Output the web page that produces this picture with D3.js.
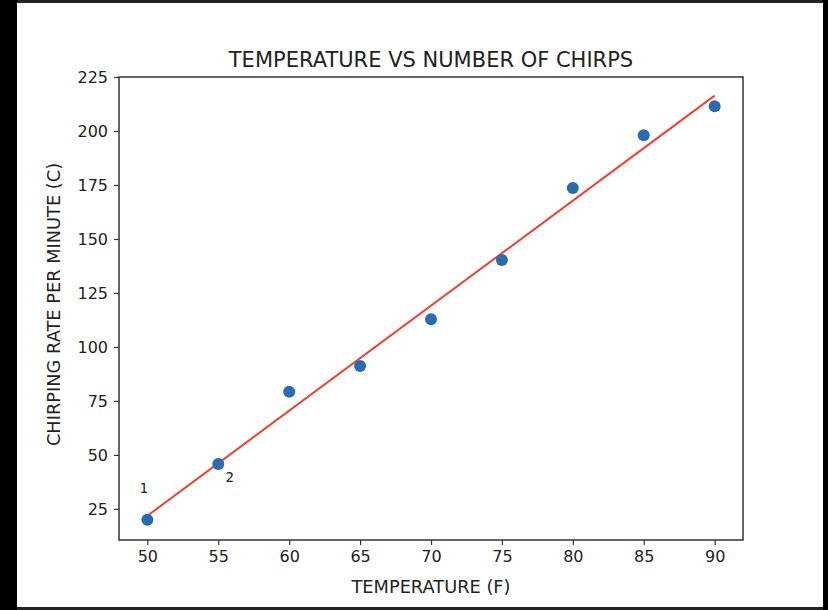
<!DOCTYPE html>
<html><head><meta charset="utf-8">
<script src="https://cdn.jsdelivr.net/npm/d3@7"></script>
<style>
html,body{margin:0;padding:0;background:#fff;}
svg{display:block;}
text{font-family:"DejaVu Sans",sans-serif;fill:#222;}
</style></head>
<body>
<svg id="chart" width="828" height="610"></svg>
<script>
const temperature = [50, 55, 60, 65, 70, 75, 80, 85, 90];
const chirps = [20.0, 45.8, 79.2, 91.2, 112.8, 140.3, 173.6, 198.0, 211.5];
const fitX = [50, 90];
const fitY = [21.8, 216.4];
const xTicks = [50, 55, 60, 65, 70, 75, 80, 85, 90];
const yTicks = [25, 50, 75, 100, 125, 150, 175, 200, 225];
const annotations = [{label: "1", x: 49.75, y: 32.5}, {label: "2", x: 55.8, y: 37.3}];

const svg = d3.select("#chart");
// screenshot frame
svg.append("rect").attr("x",0).attr("y",0).attr("width",828).attr("height",610).attr("fill","#fff");
svg.append("rect").attr("x",0).attr("y",0).attr("width",828).attr("height",3).attr("fill","#222");
svg.append("rect").attr("x",0).attr("y",607).attr("width",828).attr("height",3).attr("fill","#222");
svg.append("rect").attr("x",0).attr("y",0).attr("width",17).attr("height",610).attr("fill","#000");
svg.append("rect").attr("x",823).attr("y",0).attr("width",5).attr("height",610).attr("fill","#000");

const L = 119, R = 743, T = 77, B = 540;
const x = d3.scaleLinear().domain([48, 92]).range([L, R]);
const y = d3.scaleLinear().domain([10.6, 225]).range([B, T]);

// axes
const xa = svg.append("g").attr("transform",`translate(0,${B})`)
  .call(d3.axisBottom(x).tickValues(xTicks).tickSize(5).tickPadding(6).tickFormat(d3.format("d")));
const ya = svg.append("g").attr("transform",`translate(${L},0)`)
  .call(d3.axisLeft(y).tickValues(yTicks).tickSize(5).tickPadding(6).tickFormat(d3.format("d")));
[xa, ya].forEach(g => {
  g.select(".domain").remove();
  g.selectAll(".tick line").attr("stroke","#333").attr("stroke-width",1.2);
  g.selectAll(".tick text").attr("font-size",16).attr("fill","#222").style("font-family","DejaVu Sans");
});
// frame
svg.append("rect").attr("x",L).attr("y",T).attr("width",R-L).attr("height",B-T)
  .attr("fill","none").attr("stroke","#333").attr("stroke-width",1.5);

// fit line
svg.append("line")
  .attr("x1", x(fitX[0])).attr("y1", y(fitY[0]))
  .attr("x2", x(fitX[1])).attr("y2", y(fitY[1]))
  .attr("stroke","#f0402f").attr("stroke-width",2);

// points
svg.append("g").selectAll("circle").data(temperature).join("circle")
  .attr("cx", d => x(d)).attr("cy", (d,i) => y(chirps[i])).attr("r", 6)
  .attr("fill","#2b6cb0");

// annotations
svg.append("g").selectAll("text").data(annotations).join("text")
  .attr("x", d => x(d.x)).attr("y", d => y(d.y))
  .attr("text-anchor","middle").attr("font-size",14)
  .style("font-family","DejaVu Sans Mono")
  .text(d => d.label);

// titles
svg.append("text").attr("x",(L+R)/2).attr("y",67).attr("text-anchor","middle")
  .attr("font-size",21).text("TEMPERATURE VS NUMBER OF CHIRPS");
svg.append("text").attr("x",(L+R)/2).attr("y",593).attr("text-anchor","middle")
  .attr("font-size",17.8).text("TEMPERATURE (F)");
svg.append("text").attr("transform",`translate(60,${(T+B)/2 - 4}) rotate(-90)`).attr("text-anchor","middle")
  .attr("font-size",17.8).text("CHIRPING RATE PER MINUTE (C)");
</script>
</body></html>
